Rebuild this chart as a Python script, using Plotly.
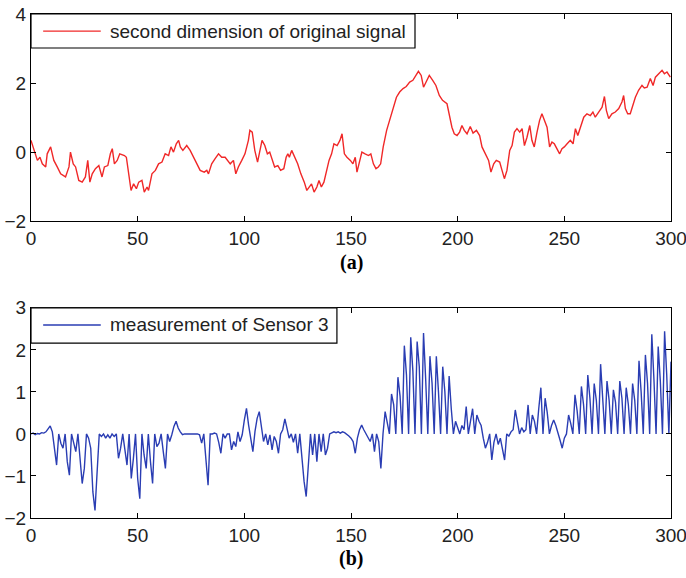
import plotly.graph_objects as go

# ---- top panel: second dimension of original signal
sig_x = [0, 1.4, 3, 4.2, 5.3, 6.9, 7.6, 9.2, 10.7, 12.3, 13.9, 16.2, 17.8, 18.5, 19.8, 20.9, 22.4, 24, 25.5, 26.6,
         27.6, 28.7, 30.2, 31.8, 33.3, 34.4, 36, 37.2, 38.1, 39.1, 40.4, 41.6, 43.8, 44.7, 45.8, 46.9, 48.1, 49.4, 50.5, 52,
         53.1, 54.4, 55.1, 56.7, 58.3, 59.8, 61.4, 62.9, 64.5, 65.6, 66.8, 68.1, 69.2, 70, 71.2, 73, 74.6, 76.1, 77.7, 79.3,
         81.2, 82.4, 83.2, 84.7, 86.3, 87.9, 89.4, 91, 93.4, 94.9, 96, 97.2, 98.8, 100.3, 101.9, 102.6, 103.7, 104.9, 106.2, 107.3,
         108.3, 109.6, 110.8, 111.9, 113, 114.2, 115.7, 117, 118.5, 119.6, 120.4, 121.1, 122.2, 123.5, 125, 126.5, 128.1, 129.3, 130.4, 131.5,
         132.7, 134, 135, 136.1, 137.3, 138.6, 139.7, 140.9, 142, 143.5, 144.8, 145.8, 146.9, 148.1, 149.7, 150.9, 152, 152.8, 154, 155.1,
         156.6, 158.2, 159.3, 160.5, 161.7, 162.8, 163.9, 165.1, 166.7, 168.2, 169.8, 171.3, 172.8, 174.4, 175.9, 177.5, 179, 180.6, 181.6, 182.9,
         184, 185.2, 186.7, 188.3, 189.8, 191.4, 192.9, 195, 196.3, 197.3, 198.4, 199.7, 200.9, 202, 203.1, 204.4, 205.9, 207.2, 208.8, 210.3,
         211.4, 213, 214.5, 215.6, 216.9, 218.1, 219.7, 220.8, 221.9, 223.1, 224.4, 225.5, 226.6, 227.8, 229.1, 230.2, 231.3, 232.5, 233.8, 234.8,
         235.9, 237.2, 238.4, 239.5, 240.6, 241.9, 243.1, 244.2, 245.3, 246.6, 247.8, 248.9, 250, 251.3, 252.8, 254.1, 255.2, 256.3, 257.5, 259.1,
         260.6, 262.2, 263.4, 264.5, 266.1, 267.7, 268.8, 269.7, 270.8, 272.3, 273.9, 275.5, 277, 277.8, 278.6, 279.7, 280.9, 282.2, 283.3, 284.8,
         286.4, 287.5, 288.8, 290.3, 291.6, 292.7, 294.2, 295.8, 296.9, 298.1, 299.7]
sig_y = [0.34, 0.05, -0.24, -0.15, -0.34, -0.43, -0.05, 0.15, -0.24, -0.43, -0.63, -0.72, -0.43, 0.0, -0.34, -0.43, -0.82, -0.87, -0.72, -0.24,
         -0.87, -0.63, -0.48, -0.39, -0.72, -0.43, -0.39, -0.05, 0.1, -0.34, -0.24, -0.05, -0.1, -0.15, -0.63, -1.11, -0.92, -1.06, -0.87, -0.82,
         -1.16, -1.01, -1.11, -0.63, -0.53, -0.34, -0.29, -0.05, -0.1, 0.15, 0.0, 0.24, 0.34, 0.15, 0.05, 0.19, 0.05, -0.15, -0.34, -0.53,
         -0.58, -0.53, -0.63, -0.34, -0.19, -0.05, -0.15, -0.15, -0.34, -0.24, -0.63, -0.43, -0.24, -0.05, 0.34, 0.63, 0.58, 0.05, -0.29, 0.05,
         0.34, 0.19, -0.05, 0.0, -0.24, -0.43, -0.39, -0.53, -0.48, -0.15, -0.05, -0.15, 0.05, -0.15, -0.34, -0.63, -0.87, -1.11, -1.01, -0.92,
         -1.16, -1.01, -0.82, -1.01, -0.87, -0.53, -0.24, -0.05, 0.24, 0.19, 0.34, 0.53, -0.05, -0.15, -0.24, -0.34, -0.15, -0.58, -0.24, 0.0,
         -0.05, -0.1, -0.05, -0.34, -0.48, -0.43, -0.34, 0.15, 0.63, 0.92, 1.30, 1.59, 1.74, 1.84, 1.90, 2.03, 2.08, 2.22, 2.34, 2.22,
         1.88, 2.03, 2.22, 2.08, 1.93, 1.64, 1.50, 1.40, 1.06, 0.72, 0.53, 0.48, 0.58, 0.77, 0.63, 0.53, 0.74, 0.55, 0.63, 0.48,
         0.15, -0.05, -0.24, -0.58, -0.34, -0.24, -0.29, -0.53, -0.77, -0.53, 0.05, 0.19, 0.58, 0.68, 0.58, 0.68, 0.19, 0.43, 0.77, 0.34,
         0.15, 0.58, 0.92, 1.11, 0.92, 0.72, 0.15, 0.29, 0.24, 0.10, -0.05, 0.10, 0.15, 0.24, 0.34, 0.24, 0.68, 0.48, 0.72, 1.01,
         1.11, 1.06, 1.16, 1.01, 1.16, 1.30, 1.61, 1.21, 0.97, 1.11, 1.16, 1.26, 1.45, 1.64, 1.26, 1.11, 1.11, 1.40, 1.59, 1.79,
         1.93, 1.86, 1.88, 2.13, 1.93, 2.17, 2.27, 2.37, 2.27, 2.32, 2.17]

# ---- bottom panel: measurement of Sensor 3, one value per sample 0..300
meas_y = [0, 0.02, -0.02, 0.01, 0, 0.03, 0.02, 0.05, 0.12, 0.19,
          0.05, -0.35, -0.74, 0, -0.22, -0.34, 0, -0.66, -0.98, 0,
          -0.22, -0.42, 0, -0.58, -1.18, -0.82, 0, -0.1, -0.34, -1.38,
          -1.82, -0.9, 0, -0.06, 0.0, -0.1, -0.02, -0.1, 0, -0.06,
          0, -0.58, -0.34, 0, -0.42, -0.74, 0, -1.06, -0.58, 0,
          -1.06, -1.54, 0, -0.5, -0.82, 0, -0.66, -1.18, 0, -0.3,
          -0.22, 0, -0.42, -0.82, 0, -0.18, -0.02, 0.18, 0.3, 0.14,
          0.05, -0.02, 0, 0, 0, 0, 0, 0, 0, -0.02,
          -0.22, 0, -0.58, -1.22, 0, 0, 0.02, 0, -0.2, -0.46,
          0, -0.1, 0, 0, -0.38, -0.18, -0.3, 0.05, -0.18, -0.02,
          0.33, 0.61, 0.21, -0.1, -0.42, 0.06, 0.37, 0.53, 0.13, -0.18,
          0, -0.26, -0.02, -0.38, -0.06, -0.18, -0.46, 0, 0.1, 0.36,
          0.13, -0.1, 0, -0.2, 0, -0.46, 0, -0.66, -1.13, -1.49,
          -0.82, 0, -0.5, 0, -0.66, 0, -0.42, 0, -0.5, -0.34,
          0, 0.02, 0.05, 0.03, 0.05, 0.02, 0.05, 0.03, 0, -0.05,
          -0.1, -0.18, -0.46, -0.1, 0.1, 0.21, 0.1, 0, -0.1, -0.18,
          0, -0.42, 0, -0.18, -0.82, 0, 0.53, 0.3, 0, 0.95,
          0.7, 0, 1.35, 0.9, 0, 2.1, 1.4, 0, 2.3, 1.5,
          0, 2.2, 1.6, 0, 2.4, 1.3, 0, 1.85, 1.2, 0,
          1.85, 1.0, 0, 1.6, 1.0, 0, 1.38, 0.6, 0, 0.3,
          0.15, 0, 0.2, 0.1, 0.65, 0, 0.3, 0.6, 0, 0.45,
          0.3, 0.2, -0.1, -0.34, -0.2, 0, -0.62, -0.2, 0, -0.25,
          -0.1, -0.35, -0.62, 0, -0.05, 0.05, 0.1, 0.57, 0.3, 0,
          0.15, 0.05, 0.1, 0.69, 0, 0.45, 0.3, 0, 0.6, 1.1,
          0, 0.85, 0.5, 0, 0.2, 0.33, 0.2, 0.05, -0.15, -0.34,
          -0.1, 0, 0.45, 0.25, 0, 0.93, 0.55, 0, 1.13, 0.7,
          0, 1.4, 0.85, 0, 1.2, 0.8, 0, 1.66, 0.95, 0,
          1.26, 0.8, 0, 1.05, 0.75, 0, 1.26, 0.85, 0, 1.1,
          0.7, 0, 1.2, 0.8, 0, 1.74, 1.0, 0, 1.88, 1.2,
          0, 2.37, 1.3, 0, 2.08, 1.25, 0, 2.44, 1.4, 0,
          1.72]
meas_x = list(range(len(meas_y)))

x_ticks = [0, 50, 100, 150, 200, 250, 300]
top_yticks = [-2, 0, 2, 4]
bot_yticks = [-2, -1, 0, 1, 2, 3]

sig_name = "second dimension of original signal"
meas_name = "measurement of Sensor 3"
sig_color = "#f02828"
meas_color = "#2a3db3"

FONT = "Liberation Sans, Arial, sans-serif"

fig = go.Figure()
fig.add_trace(go.Scatter(x=sig_x, y=sig_y, mode="lines", name=sig_name,
                         line=dict(color=sig_color, width=1.4), xaxis="x", yaxis="y", showlegend=False))
fig.add_trace(go.Scatter(x=meas_x, y=meas_y, mode="lines", name=meas_name,
                         line=dict(color=meas_color, width=1.4), xaxis="x2", yaxis="y2", showlegend=False))

axis_common = dict(showline=True, linecolor="black", linewidth=1.2, mirror="ticks", ticks="inside",
                   ticklen=5, tickcolor="black", showgrid=False, zeroline=False, automargin=False,
                   ticklabeloverflow="allow",
                   tickfont=dict(family=FONT, size=19, color="#222"))

TOP_DOM = [0.589, 1.0]
BOT_DOM = [0.0, 0.417]


def legend_box(y_top, y_bot, x_right, y_mid, text, color):
    shapes = [
        dict(type="rect", xref="paper", yref="paper", x0=0, x1=x_right, y0=y_bot, y1=y_top,
             line=dict(color="black", width=1.2), fillcolor="white", layer="above"),
        dict(type="line", xref="paper", yref="paper", x0=0.019, x1=0.109, y0=y_mid, y1=y_mid,
             line=dict(color=color, width=1.4), layer="above"),
    ]
    ann = dict(text=text, xref="paper", yref="paper", x=0.1203, y=y_mid, xanchor="left", yanchor="middle",
               showarrow=False, font=dict(family=FONT, size=19, color="#222"))
    return shapes, ann


s1, a1 = legend_box(1.0, 0.9325, 0.600, 0.966, sig_name, sig_color)
s2, a2 = legend_box(0.417, 0.347, 0.478, 0.383, meas_name, meas_color)

fig.update_layout(
    width=686, height=578,
    margin=dict(l=31, r=15, t=14, b=60),
    paper_bgcolor="white", plot_bgcolor="white",
    xaxis=dict(domain=[0, 1], range=[0, 300], tickvals=x_ticks, anchor="y", **axis_common),
    yaxis=dict(domain=TOP_DOM, range=[-2, 4], tickvals=top_yticks, anchor="x", **axis_common),
    xaxis2=dict(domain=[0, 1], range=[0, 300], tickvals=x_ticks, anchor="y2", **axis_common),
    yaxis2=dict(domain=BOT_DOM, range=[-2, 3], tickvals=bot_yticks, anchor="x2", **axis_common),
    shapes=s1 + s2,
    annotations=[
        a1, a2,
        dict(text="<b>(a)</b>", x=0.5, y=0.506, xref="paper", yref="paper", showarrow=False,
             xanchor="center", yanchor="middle",
             font=dict(family="Liberation Serif, Times New Roman, serif", size=20, color="black")),
        dict(text="<b>(b)</b>", x=0.5, y=-0.081, xref="paper", yref="paper", showarrow=False,
             xanchor="center", yanchor="middle",
             font=dict(family="Liberation Serif, Times New Roman, serif", size=20, color="black")),
    ],
)

fig.write_html("out.html", config={"displayModeBar": False},
               post_script="document.body.style.margin='0px';document.body.style.overflow='hidden';")
